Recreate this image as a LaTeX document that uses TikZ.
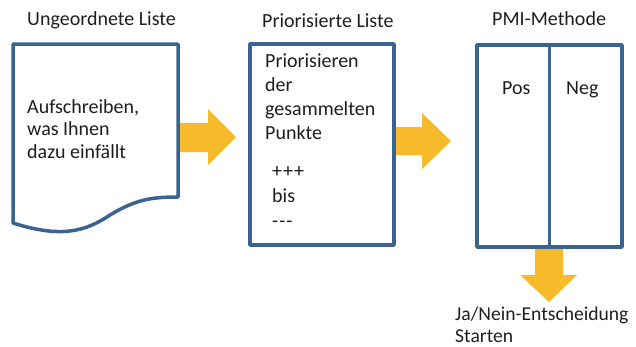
\documentclass[tikz,border=0pt]{standalone}
\usepackage{fontspec}
\setmainfont{Carlito}
\definecolor{boxblue}{HTML}{3A6490}
\definecolor{arrowgold}{HTML}{F7BA2B}
\definecolor{txt}{HTML}{1E1E1E}
\begin{document}
\begin{tikzpicture}[x=1pt,y=-1pt,
  frame/.style={draw=boxblue,line width=3.5pt,fill=white,line join=round},
  divider/.style={draw=boxblue,line width=3.5pt},
  lbl/.style={anchor=base west,inner sep=0pt,text=txt,font=\fontsize{20}{23}\selectfont},
  blockarrow/.style={fill=arrowgold,draw=none}]
\useasboundingbox (0,0) rectangle (636,346);
% block arrows
\fill[blockarrow] (179,123) -- (208,123) -- (208,109) -- (236,137) -- (208,165) -- (208,152) -- (179,152) -- cycle;
\fill[blockarrow] (395,127) -- (422,127) -- (422,113) -- (451,141) -- (422,169) -- (422,155) -- (395,155) -- cycle;
\fill[blockarrow] (535,247) -- (535,275) -- (520,275) -- (549,302) -- (577,275) -- (563,275) -- (563,247) -- cycle;
% document shape
\draw[frame] (13,44) -- (178,44) -- (178,197)
  .. controls (150,197) and (135,200) .. (110,215)
  .. controls (85,232) and (60,238) .. (13,223) -- cycle;
% boxes
\node[frame,minimum width=144pt,minimum height=201pt,inner sep=0pt] (box2) at (322,144.5) {};
\node[frame,minimum width=145pt,minimum height=202pt,inner sep=0pt] (box3) at (549.5,146) {};
\draw[divider] (box3.north) -- (box3.south);
% titles
\node[lbl] (t1) at (27,25) {Ungeordnete Liste};
\node[lbl] (t2) at (262,27) {Priorisierte Liste};
\node[lbl] (t3) at (492,25) {PMI-Methode};
% box 1 text
\node[lbl] (a1) at (27,113) {Aufschreiben,};
\node[lbl] (a2) at (27,135.5) {was Ihnen};
\node[lbl] (a3) at (27,158) {dazu einfällt};
% box 2 text
\node[lbl] (p1) at (265,67) {Priorisieren};
\node[lbl] (p2) at (265,91.5) {der};
\node[lbl] (p3) at (265,115) {gesammelten};
\node[lbl] (p4) at (265,139) {Punkte};
\node[lbl] (p5) at (272,177) {+\kern1pt+\kern1pt+};
\node[lbl] (p6) at (272,202) {bis};
\node[lbl] (p7) at (272,227) {\mbox{-}\kern1pt\mbox{-}\kern1pt\mbox{-}};
% box 3 text
\node[lbl] (pos) at (502,94) {Pos};
\node[lbl] (neg) at (566,94) {Neg};
% result
\node[lbl,font=\fontsize{19.6}{23}\selectfont] (r1) at (455,320) {Ja/Nein-Entscheidung};
\node[lbl,font=\fontsize{19.6}{23}\selectfont] (r2) at (455,342) {Starten};
\end{tikzpicture}
\end{document}
